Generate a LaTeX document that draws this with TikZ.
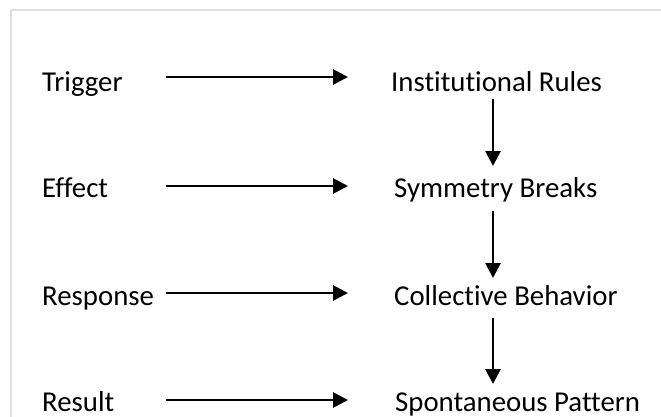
\documentclass[tikz,border=0pt]{standalone}
\usepackage{fontspec}
\setmainfont{Carlito}[RawFeature={-liga;-clig;-dlig}]
\usetikzlibrary{arrows.meta}
\begin{document}
\begin{tikzpicture}[x=1pt,y=-1pt,
  lbl/.style={anchor=base west,inner sep=0pt,font=\fontsize{28.8}{34}\selectfont},
  conn/.style={line width=2.8pt,-{Triangle[length=15pt,width=15pt]}}]
\useasboundingbox (0,0) rectangle (661,417);
\draw[black!13,line width=2pt] (11,425) -- (11,10) -- (670,10);
% left labels
\node[lbl] (t1) at (42,91.5) {Trigger};
\node[lbl] (t2) at (42,197.5) {Effect};
\node[lbl] (t3) at (42,305.5) {Response};
\node[lbl] (t4) at (42,411.5) {Result};
% right labels
\node[lbl] (r1) at (391,91.5) {Institutional Rules};
\node[lbl] (r2) at (394,197.5) {Symmetry Breaks};
\node[lbl] (r3) at (394,305.5) {Collective Behavior};
\node[lbl] (r4) at (395,411.5) {Spontaneous Pattern};
% horizontal arrow ends
\coordinate (h1s) at (166,77);  \coordinate (h1e) at (348,77);
\coordinate (h2s) at (166,186); \coordinate (h2e) at (348,186);
\coordinate (h3s) at (166,293); \coordinate (h3e) at (348,293);
\coordinate (h4s) at (166,400); \coordinate (h4e) at (348,400);
\draw[conn] (h1s) -- (h1e);
\draw[conn] (h2s) -- (h2e);
\draw[conn] (h3s) -- (h3e);
\draw[conn] (h4s) -- (h4e);
% vertical arrow ends
\coordinate (v1s) at (493,99);  \coordinate (v1e) at (493,166);
\coordinate (v2s) at (493,211); \coordinate (v2e) at (493,278);
\coordinate (v3s) at (493,318); \coordinate (v3e) at (493,384);
\draw[conn] (v1s) -- (v1e);
\draw[conn] (v2s) -- (v2e);
\draw[conn] (v3s) -- (v3e);
\end{tikzpicture}
\end{document}
